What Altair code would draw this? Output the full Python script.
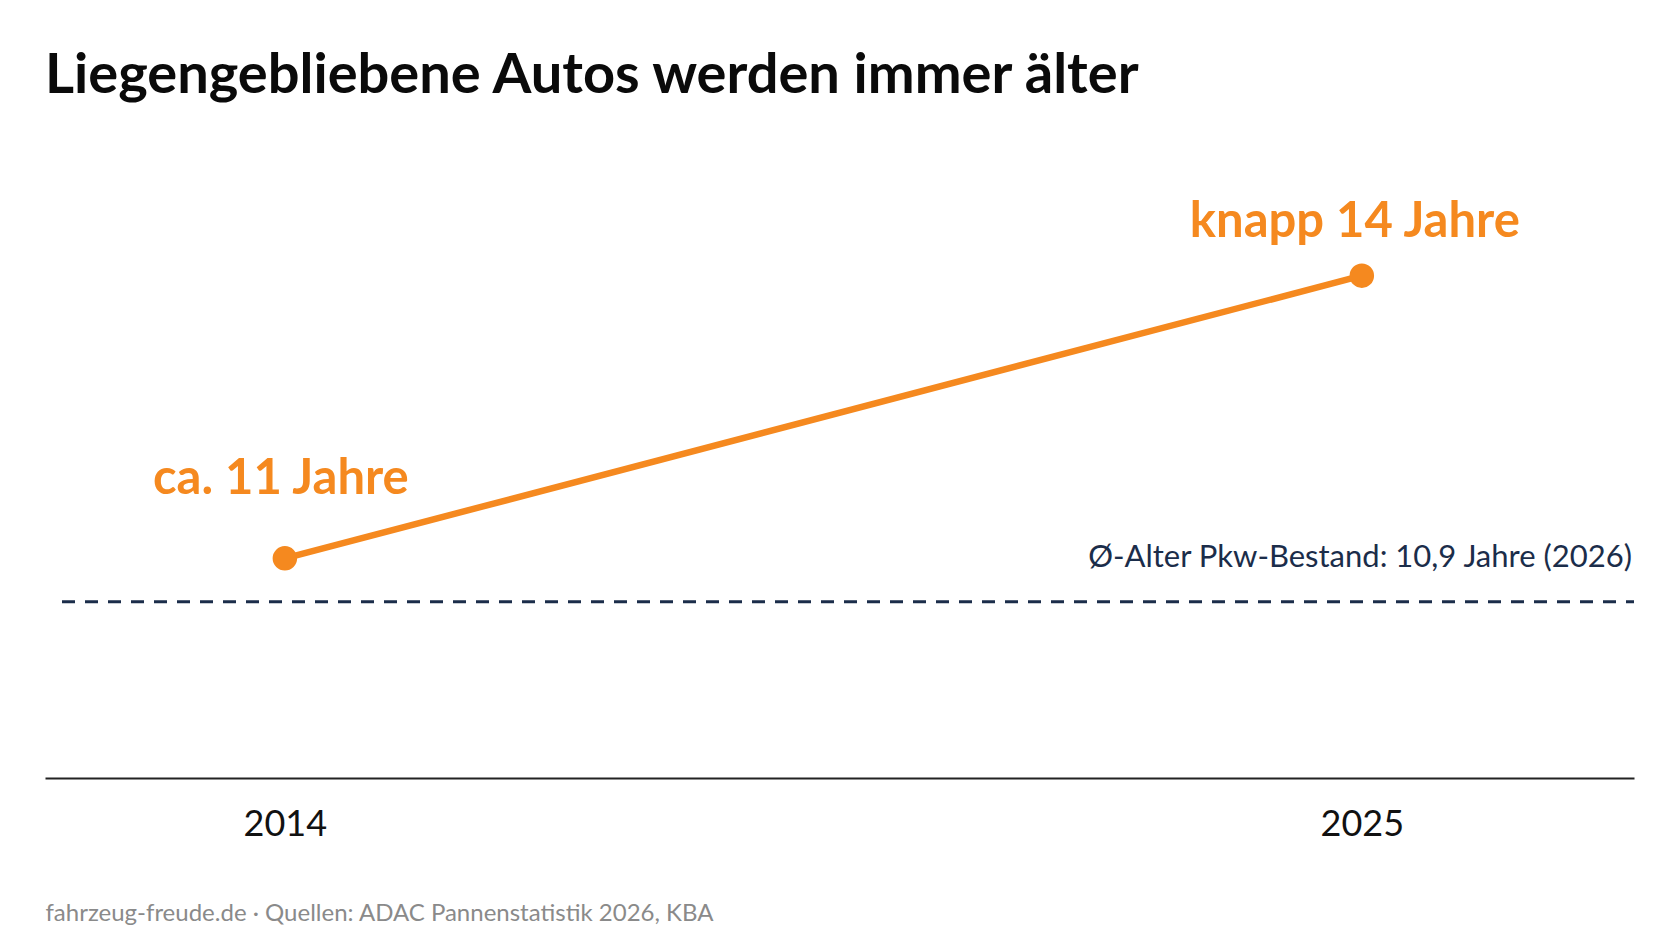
import altair as alt
import pandas as pd

# ---- data ----
years = [2014, 2025]
ages = [11.3, 13.9]
labels = ["ca. 11 Jahre", "knapp 14 Jahre"]
ref_age = [10.9]
ref_label = ["Ø-Alter Pkw-Bestand: 10,9 Jahre (2026)"]
tick_years = [2014, 2025]

title_text = "Liegengebliebene Autos werden immer älter"
footer_text = "fahrzeug-freude.de · Quellen: ADAC Pannenstatistik 2026, KBA"

ORANGE = "#F5891F"
NAVY = "#1B2D4A"
FONT = "Lato"

df = pd.DataFrame({"year": years, "age": ages, "label": labels})
ref = pd.DataFrame({"age": ref_age, "label": ref_label})

W, H = 1589, 623
xscale = alt.Scale(domain=[2011.55, 2027.78], nice=False, zero=False)
yscale = alt.Scale(domain=[9.28, 15.01], nice=False, zero=False)

xenc = alt.X(
    "year:Q",
    scale=xscale,
    axis=alt.Axis(
        values=tick_years,
        format="d",
        ticks=False,
        grid=False,
        domainColor="#222222",
        domainWidth=2,
        labelFont=FONT,
        labelFontSize=36,
        labelColor="#111111",
        labelBaseline="middle",
        labelPadding=46,
        labelFlush=False,
        title=footer_text,
        titleFont=FONT,
        titleFontSize=24,
        titleFontWeight="normal",
        titleColor="#8A8A8A",
        titleAnchor="start",
        titleAlign="left",
        titleBaseline="middle",
        titleX=0,
        titleY=135,
    ),
)
yenc = alt.Y("age:Q", scale=yscale, axis=None)

base = alt.Chart(df)

line = base.mark_line(color=ORANGE, strokeWidth=6.5).encode(x=xenc, y=yenc)
points = base.mark_circle(color=ORANGE, opacity=1, size=600).encode(x=xenc, y=yenc)

lab1 = (
    base.transform_filter(alt.datum.year == 2014)
    .mark_text(color=ORANGE, font=FONT, fontWeight="bold", fontSize=49,
               align="center", baseline="middle", dx=-4, dy=-79)
    .encode(x=xenc, y=yenc, text="label:N")
)
lab2 = (
    base.transform_filter(alt.datum.year == 2025)
    .mark_text(color=ORANGE, font=FONT, fontWeight="bold", fontSize=49,
               align="center", baseline="middle", dx=-7, dy=-54)
    .encode(x=xenc, y=yenc, text="label:N")
)

rule = (
    alt.Chart(ref)
    .mark_rule(color=NAVY, strokeWidth=3, strokeDash=[13, 10])
    .encode(y=alt.Y("age:Q", scale=yscale, axis=None), x=alt.value(17), x2=alt.value(W))
)
ref_text = (
    alt.Chart(ref)
    .mark_text(color=NAVY, font=FONT, fontSize=31, align="right",
               baseline="middle", dy=-44, dx=-2)
    .encode(y=alt.Y("age:Q", scale=yscale, axis=None), x=alt.value(W), text="label:N")
)

chart = (
    alt.layer(rule, ref_text, line, points, lab1, lab2)
    .properties(
        width=W,
        height=H,
        title=alt.TitleParams(
            text=title_text,
            anchor="start",
            font=FONT,
            fontSize=56,
            fontWeight="bold",
            color="#0A0A0A",
            baseline="alphabetic",
            offset=6,
        ),
        autosize=alt.AutoSizeParams(type="none"),
        padding={"left": 45, "top": 155, "right": 46, "bottom": 166},
        background="white",
    )
    .configure_view(stroke=None)
)

chart.save("out.html", embed_options={"renderer": "svg", "actions": False})
